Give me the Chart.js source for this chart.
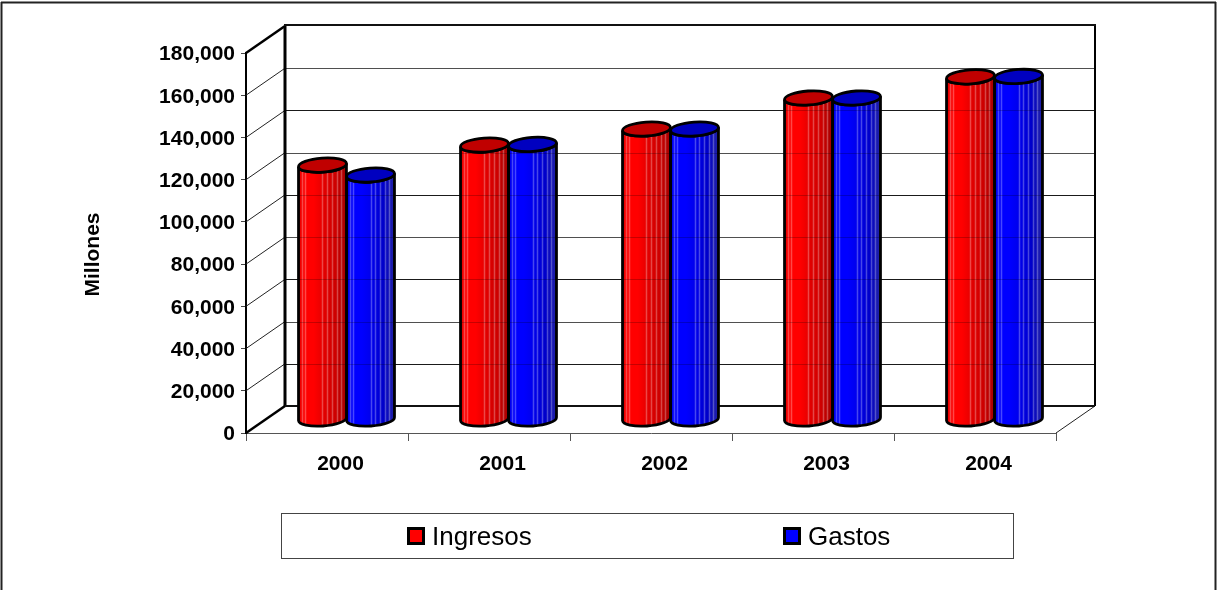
<!DOCTYPE html>
<html>
<head>
<meta charset="utf-8">
<script src="https://cdn.jsdelivr.net/npm/chart.js@4"></script>
<style>
  html, body { margin: 0; padding: 0; background: #fff; }
  #wrap { position: relative; width: 1217px; height: 590px; }
</style>
</head>
<body>
<div id="wrap"><canvas id="chart" width="1217" height="590"></canvas></div>
<script>
// values, in millions
var years = ["2000", "2001", "2002", "2003", "2004"];
var ingresos = [120500, 130000, 137600, 152300, 162300];
var gastos = [115800, 130300, 137600, 152300, 162500];
var axisMax = 180000;
var axisStep = 20000;
var axisTitle = "Millones";

// depth of the fake 3D box, in pixels
var depthX = 39;
var depthY = 27;
var fontName = '"Liberation Sans", Arial, sans-serif';

var shades = {
  "#ff0000": { top: "#c00000", stops: ["#e80000", "#ff0000", "#ff0000", "#e00000", "#cc0000", "#a40000"] },
  "#0000ff": { top: "#0000c0", stops: ["#0000e8", "#0000ff", "#0000ff", "#0000e8", "#0000c8", "#2424a4"] }
};
var gradPos = [0, 0.14, 0.32, 0.55, 0.78, 1];
var stripes = [0.08, 0.14, 0.5, 0.6, 0.7, 0.8, 0.88];

// bars become cylinders, standing in the middle of the box depth
Chart.BarElement.prototype.draw = function (ctx) {
  var p = this.getProps(["x", "y", "base", "width"], true);
  var rx = p.width / 2;
  var ry = 7;
  var tilt = -0.07;
  var cx = p.x + depthX / 2;
  var top = p.y - depthY / 2;
  var bot = p.base - depthY / 2;
  var col = shades[this.options.backgroundColor];

  function bodyPath() {
    ctx.beginPath();
    ctx.ellipse(cx, top, rx, ry, tilt, Math.PI, 0, true);
    ctx.ellipse(cx, bot, rx, ry, tilt, 0, Math.PI, false);
    ctx.closePath();
  }

  ctx.save();
  var grad = ctx.createLinearGradient(cx - rx, 0, cx + rx, 0);
  col.stops.forEach(function (c, i) { grad.addColorStop(gradPos[i], c); });
  bodyPath();
  ctx.fillStyle = grad;
  ctx.fill();

  ctx.save();
  bodyPath();
  ctx.clip();
  ctx.strokeStyle = "rgba(255,255,255,0.28)";
  ctx.lineWidth = 1.5;
  stripes.forEach(function (s) {
    var sx = Math.round(cx - rx + s * p.width) + 0.5;
    ctx.beginPath();
    ctx.moveTo(sx, top - 10);
    ctx.lineTo(sx, bot + 10);
    ctx.stroke();
  });
  ctx.restore();

  ctx.strokeStyle = "#000";
  ctx.lineWidth = 2.8;
  bodyPath();
  ctx.stroke();

  ctx.beginPath();
  ctx.ellipse(cx, top, rx, ry, tilt, 0, Math.PI * 2);
  ctx.fillStyle = col.top;
  ctx.fill();
  ctx.stroke();
  ctx.restore();
};

function line(ctx, x1, y1, x2, y2, w, color) {
  ctx.beginPath();
  ctx.moveTo(x1, y1);
  ctx.lineTo(x2, y2);
  ctx.lineWidth = w;
  ctx.strokeStyle = color;
  ctx.stroke();
}

// back wall, side wall and floor, placed from the chart's own scales
var boxPlugin = {
  id: "box",
  beforeDatasetsDraw: function (chart) {
    var ctx = chart.ctx;
    var y = chart.scales.y;
    var x = chart.scales.x;
    var l = x.left, r = x.right;
    var backL = l + depthX, backR = r + depthX;
    ctx.save();
    y.ticks.forEach(function (t, i) {
      var py = y.getPixelForValue(t.value);
      if (i > 0 && t.value < axisMax) {
        line(ctx, l, py, backL, py - depthY, 1, "#222");
        line(ctx, backL, Math.round(py - depthY) + 0.5, backR, Math.round(py - depthY) + 0.5, 1, i % 2 ? "#222" : "#666");
      }
    });
    var y0 = y.getPixelForValue(0), yT = y.getPixelForValue(axisMax);
    line(ctx, l, yT, backL, yT - depthY, 2.5, "#000");
    line(ctx, l, y0, backL, y0 - depthY, 2.5, "#000");
    line(ctx, r, y0, backR, y0 - depthY, 1, "#222");
    line(ctx, backL - 1, yT - depthY - 1, backR + 1, yT - depthY - 1, 2, "#111");
    line(ctx, backL, yT - depthY, backL, y0 - depthY, 3, "#000");
    line(ctx, backR, yT - depthY, backR, y0 - depthY, 2, "#000");
    line(ctx, backL, y0 - depthY, backR, y0 - depthY, 2, "#111");
    ctx.restore();
  },
  afterDatasetsDraw: function (chart) {
    // the back wall lines show faintly through the cylinders
    var ctx = chart.ctx;
    var y = chart.scales.y;
    var x = chart.scales.x;
    ctx.save();
    y.ticks.forEach(function (t, i) {
      if (i > 0 && t.value < axisMax) {
        var py = Math.round(y.getPixelForValue(t.value) - depthY) + 0.5;
        line(ctx, x.left + depthX, py, x.right + depthX, py, 1, "rgba(0,0,0,0.22)");
      }
    });
    ctx.restore();
  },
  afterDraw: function (chart) {
    var ctx = chart.ctx;
    ctx.save();
    // outer frame of the chart object
    line(ctx, 1.5, 2, 1.5, 590, 2, "#222");
    line(ctx, 1, 2.5, 1216, 2.5, 2, "#222");
    line(ctx, 1215.5, 2, 1215.5, 590, 2, "#222");
    // axis title sits below the middle of the axis
    ctx.save();
    ctx.translate(93, 254.5);
    ctx.rotate(-Math.PI / 2);
    ctx.fillStyle = "#000";
    ctx.font = "bold 21px " + fontName;
    ctx.textAlign = "center";
    ctx.textBaseline = "middle";
    ctx.fillText(axisTitle, 0, 0);
    ctx.restore();
    // legend
    ctx.strokeStyle = "#444";
    ctx.lineWidth = 1;
    ctx.strokeRect(281.5, 513.5, 732, 45);
    var keyX = [408.5, 784.5];
    chart.data.datasets.forEach(function (ds, i) {
      ctx.fillStyle = ds.backgroundColor;
      ctx.fillRect(keyX[i], 528.5, 15, 15);
      ctx.strokeStyle = "#000";
      ctx.lineWidth = 3;
      ctx.strokeRect(keyX[i], 528.5, 15, 15);
      ctx.fillStyle = "#000";
      ctx.font = "26px " + fontName;
      ctx.textAlign = "left";
      ctx.textBaseline = "middle";
      ctx.fillText(ds.label, keyX[i] + 23.5, 537.5);
    });
    ctx.restore();
  }
};

new Chart(document.getElementById("chart"), {
  type: "bar",
  data: {
    labels: years,
    datasets: [
      { label: "Ingresos", data: ingresos, backgroundColor: "#ff0000" },
      { label: "Gastos", data: gastos, backgroundColor: "#0000ff" }
    ]
  },
  options: {
    responsive: false,
    animation: false,
    events: [],
    layout: { autoPadding: false, padding: { top: 53, right: 161, bottom: 0, left: 0 } },
    datasets: { bar: { categoryPercentage: 0.593, barPercentage: 1, clip: false } },
    plugins: { legend: { display: false }, tooltip: { enabled: false } },
    scales: {
      x: {
        offset: true,
        grid: { offset: true, drawOnChartArea: false, tickLength: 8, tickColor: "#555", lineWidth: 1 },
        border: { color: "#555", width: 1 },
        ticks: { color: "#000", font: { family: fontName, size: 21, weight: "bold" }, padding: 11, labelOffset: 13.5, maxRotation: 0 },
        afterFit: function (s) { s.height = 157; }
      },
      y: {
        min: 0,
        max: axisMax,
        grid: { drawOnChartArea: false, tickLength: 5, tickColor: "#444", lineWidth: 1 },
        border: { color: "#000", width: 2 },
        ticks: {
          stepSize: axisStep,
          color: "#000",
          padding: 6,
          labelOffset: 1.5,
          font: { family: fontName, size: 21, weight: "bold" },
          callback: function (v) { return v.toLocaleString("en-US"); }
        },
        afterFit: function (s) { s.width = 246; }
      }
    }
  },
  plugins: [boxPlugin]
});
</script>
</body>
</html>
